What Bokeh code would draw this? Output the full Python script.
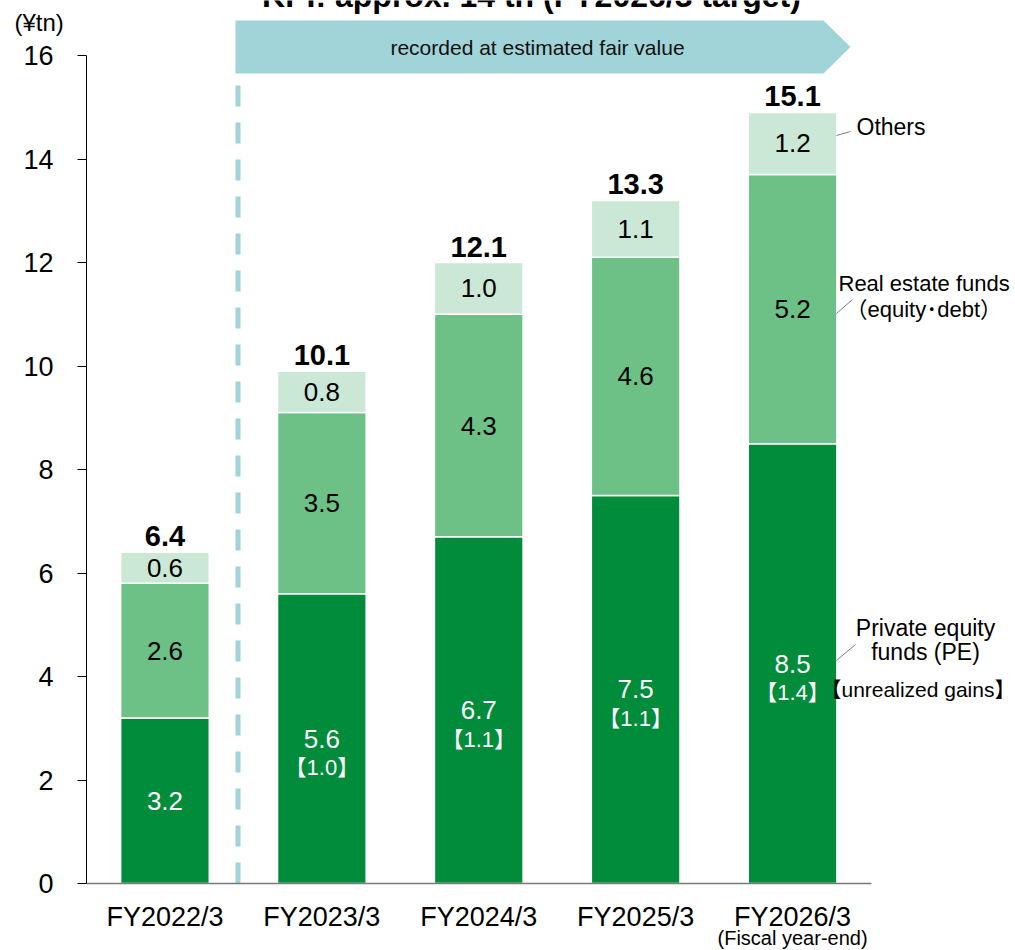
from bokeh.plotting import figure
from bokeh.models import Range1d, FixedTicker, ColumnDataSource
from bokeh.core.properties import value
from bokeh.embed import file_html
from bokeh.resources import INLINE

# ---- data (¥ trillion) ----
categories = ["FY2022/3", "FY2023/3", "FY2024/3", "FY2025/3", "FY2026/3"]
private_equity = [3.2, 5.6, 6.7, 7.5, 8.5]
real_estate = [2.6, 3.5, 4.3, 4.6, 5.2]
others = [0.6, 0.8, 1.0, 1.1, 1.2]
totals = [6.4, 10.1, 12.1, 13.3, 15.1]
unrealized_gains = [None, 1.0, 1.1, 1.1, 1.4]
y_ticks = [0, 2, 4, 6, 8, 10, 12, 14, 16]

# ---- canvas geometry: the frame fills the canvas, axes sit at fixed spots ----
W, H = 1015, 950
AXIS_X_PX, AXIS_Y_PX = 86, 883      # where the y axis / x axis lines sit
PX_PER_CAT = 156.9
PX_PER_UNIT = 51.75
X_START = -0.5 - AXIS_X_PX / PX_PER_CAT
X_END = X_START + W / PX_PER_CAT
Y_START = -(H - AXIS_Y_PX) / PX_PER_UNIT
Y_END = AXIS_Y_PX / PX_PER_UNIT
BAR_W = 0.565


def sx(px):
    """canvas pixel column -> x data coordinate"""
    return -0.5 + (px - AXIS_X_PX) / PX_PER_CAT


def sy(py):
    """canvas pixel row -> y data coordinate"""
    return (AXIS_Y_PX - py) / PX_PER_UNIT


FONT = "Liberation Sans"
FONT_CJK = "Liberation Sans, Noto Sans CJK JP"
C_PE = "#008C3A"
C_RE = "#6DC086"
C_OT = "#CAE8D5"
C_BANNER = "#A0D4D8"

p = figure(width=W, height=H, output_backend="svg", toolbar_location=None,
           x_range=Range1d(X_START, X_END), y_range=Range1d(Y_START, Y_END),
           min_border=0, min_border_left=0, min_border_right=0,
           min_border_top=0, min_border_bottom=0)
p.outline_line_color = None
p.xgrid.grid_line_color = None
p.ygrid.grid_line_color = None
p.background_fill_color = "white"
p.border_fill_color = "white"

# ---- stacked bars ----
xs = list(range(len(categories)))
pe_top = private_equity
re_top = [a + b for a, b in zip(pe_top, real_estate)]
ot_top = [a + b for a, b in zip(re_top, others)]

src = ColumnDataSource(dict(
    x=xs, pe=private_equity, re=real_estate, ot=others,
    pe_top=pe_top, re_top=re_top, ot_top=ot_top,
    pe_mid=[v / 2 for v in pe_top],
    re_mid=[(a + b) / 2 for a, b in zip(pe_top, re_top)],
    ot_mid=[(a + b) / 2 for a, b in zip(re_top, ot_top)],
    pe_lbl=[f"{v:.1f}" for v in private_equity],
    re_lbl=[f"{v:.1f}" for v in real_estate],
    ot_lbl=[f"{v:.1f}" for v in others],
    tot_lbl=[f"{v:.1f}" for v in totals],
))

p.vbar(x="x", bottom=0, top="pe_top", width=BAR_W, source=src,
       fill_color=C_PE, line_color="white", line_width=1.5)
p.vbar(x="x", bottom="pe_top", top="re_top", width=BAR_W, source=src,
       fill_color=C_RE, line_color="white", line_width=1.5)
p.vbar(x="x", bottom="re_top", top="ot_top", width=BAR_W, source=src,
       fill_color=C_OT, line_color="white", line_width=1.5)

# segment values
p.text(x="x", y="pe_mid", text="pe_lbl", source=src, text_align="center",
       text_baseline="middle", text_color="white", text_font=value(FONT),
       text_font_size="26px")
p.text(x="x", y="re_mid", text="re_lbl", source=src, text_align="center",
       text_baseline="middle", text_color="black", text_font=value(FONT),
       text_font_size="26px")
p.text(x="x", y="ot_mid", text="ot_lbl", source=src, text_align="center",
       text_baseline="middle", text_color="black", text_font=value(FONT),
       text_font_size="26px")

# totals above each stack
p.text(x="x", y="ot_top", text="tot_lbl", source=src, text_align="center",
       text_baseline="alphabetic", y_offset=-16, text_color="black",
       text_font=value(FONT), text_font_size="29px", text_font_style="bold")

# unrealized gains inside the PE segment
g_x = [x for x, g in zip(xs, unrealized_gains) if g is not None]
g_y = [v / 2 for v, g in zip(pe_top, unrealized_gains) if g is not None]
g_t = [f"【{g:.1f}】" for g in unrealized_gains if g is not None]
p.text(x=g_x, y=g_y, text=g_t, text_align="center", text_baseline="middle",
       y_offset=29, text_color="white", text_font=value(FONT_CJK),
       text_font_size="22px")

# ---- fair value banner and divider ----
div_x = sx(237.5)
p.segment(x0=[div_x], y0=[0], x1=[div_x], y1=[sy(85)], line_color=C_BANNER,
          line_width=5, line_dash="21 16", line_cap="butt")
p.patch(x=[sx(235), sx(823), sx(850), sx(823), sx(235)],
        y=[sy(20), sy(20), sy(46.5), sy(73), sy(73)],
        fill_color=C_BANNER, line_color=None)
p.text(x=[sx(537)], y=[sy(46.5)], text=["recorded at estimated fair value"],
       text_align="center", text_baseline="middle", text_color="#111111",
       text_font=value(FONT), text_font_size="21px")

# headline, partly above the canvas
p.text(x=[sx(531)], y=[sy(-5)], text=["KPI: approx. 14 tn (FY2026/3 target)"],
       text_align="center", text_baseline="alphabetic", text_color="black",
       text_font=value(FONT), text_font_size="32px", text_font_style="bold")

# ---- series call-outs on the right ----
lead_x0 = [sx(836), sx(836), sx(836)]
lead_y0 = [sy(135), sy(313), sy(660)]
lead_x1 = [sx(850), sx(852), sx(855)]
lead_y1 = [sy(131), sy(299), sy(644)]
p.segment(x0=lead_x0, y0=lead_y0, x1=lead_x1, y1=lead_y1,
          line_color="#7f7f7f", line_width=1)

call_x = [sx(856), sx(838), sx(845), sx(925), sx(925)]
call_y = [sy(126), sy(283), sy(309), sy(627), sy(651)]
call_t = ["Others", "Real estate funds", "（equity･debt）",
          "Private equity", "funds (PE)"]
call_a = ["left", "left", "left", "center", "center"]
call_s = ["23px", "22px", "22px", "23px", "23px"]
p.text(x=call_x, y=call_y, text=call_t, text_align=call_a,
       text_baseline="middle", text_color="black",
       text_font=value(FONT_CJK), text_font_size=call_s)
p.text(x=[sx(820)], y=[sy(689)], text=["【unrealized gains】"],
       text_align="left", text_baseline="middle", text_color="black",
       text_font=value(FONT_CJK), text_font_size="21px")

# unit caption and fiscal-year note
p.text(x=[sx(14)], y=[sy(22)], text=["(¥tn)"], text_align="left",
       text_baseline="middle", text_color="black", text_font=value(FONT),
       text_font_size="24px")
p.text(x=[len(categories) - 1], y=[sy(937)], text=["(Fiscal year-end)"],
       text_align="center", text_baseline="middle", text_color="black",
       text_font=value(FONT), text_font_size="20px")

# ---- axes, pinned at their data locations ----
p.xaxis.fixed_location = 0
p.xaxis.ticker = FixedTicker(ticks=xs)
p.xaxis.major_label_overrides = {i: c for i, c in zip(xs, categories)}
p.xaxis.bounds = (-0.5, len(categories) - 0.5)
p.xaxis.axis_line_color = "#7a7a7a"
p.xaxis.axis_line_width = 1.5
p.xaxis.major_tick_out = 0
p.xaxis.major_tick_in = 0
p.xaxis.minor_tick_line_color = None
p.xaxis.major_label_standoff = 18
p.xaxis.major_label_text_font = FONT
p.xaxis.major_label_text_font_size = "27px"
p.xaxis.major_label_text_color = "black"

p.yaxis.fixed_location = -0.5
p.yaxis.ticker = FixedTicker(ticks=y_ticks)
p.yaxis.bounds = (0, 16)
p.yaxis.axis_line_color = "black"
p.yaxis.axis_line_width = 1
p.yaxis.major_tick_line_color = "black"
p.yaxis.major_tick_out = 9
p.yaxis.major_tick_in = 0
p.yaxis.minor_tick_line_color = None
p.yaxis.major_label_standoff = 24
p.yaxis.major_label_text_font = FONT
p.yaxis.major_label_text_font_size = "27px"
p.yaxis.major_label_text_color = "black"

open("out.html", "w").write(file_html(p, INLINE))
